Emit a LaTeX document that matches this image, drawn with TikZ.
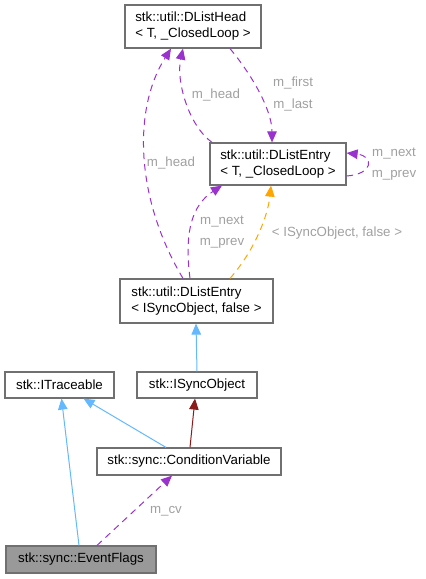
\documentclass[tikz,border=0pt]{standalone}
\usepackage{fontspec}
\setmainfont{Liberation Sans}
\usetikzlibrary{arrows.meta}
\definecolor{edgepurple}{HTML}{9A32CD}
\definecolor{edgeorange}{HTML}{FFA500}
\definecolor{edgeblue}{HTML}{63B8FF}
\definecolor{edgebrown}{HTML}{8B1A1A}
\definecolor{boxborder}{HTML}{707070}
\definecolor{lblgray}{HTML}{A0A0A0}
\definecolor{boxgray}{HTML}{999999}
\tikzset{
  box/.style={draw=boxborder, line width=1.2pt, fill=white, inner sep=0pt,
    font=\fontsize{13.3}{16}\selectfont},
  twoline/.style={box, align=left, minimum width=#1},
  oneline/.style={box, align=center, minimum width=#1},
  tip/.style={-{Triangle[length=11pt,width=9.5pt,fill=#1]}},
  uses/.style={tip=edgepurple, draw=edgepurple, line width=1pt, dash pattern=on 6.5pt off 5pt},
  templ/.style={tip=edgeorange, draw=edgeorange, line width=1pt, dash pattern=on 6.5pt off 5pt},
  inherit/.style={tip=edgeblue, draw=edgeblue, line width=1pt},
  privinh/.style={tip=edgebrown, draw=edgebrown, line width=1pt},
  lbl/.style={text=lblgray, font=\fontsize{13.3}{16}\selectfont, inner sep=0pt}
}
\begin{document}
\begin{tikzpicture}[x=1pt,y=-1pt]
\useasboundingbox (0,0) rectangle (426,579);
% nodes
\node[twoline=136pt, minimum height=43pt] (head) at (193,26.5) {stk::util::DListHead\\< T, \_ClosedLoop >};
\node[twoline=136pt, minimum height=42pt] (entryT) at (278,164) {stk::util::DListEntry\\< T, \_ClosedLoop >};
\node[twoline=153pt, minimum height=44pt] (entryS) at (196.5,301) {stk::util::DListEntry\\< ISyncObject, false >};
\node[oneline=109pt, minimum height=26pt] (trace) at (59.5,385) {stk::ITraceable};
\node[oneline=120pt, minimum height=26pt] (isync) at (197,385) {stk::ISyncObject};
\node[oneline=184pt, minimum height=27pt] (cv) at (189,461.5) {stk::sync::ConditionVariable};
\node[oneline=150pt, minimum height=27pt, fill=boxgray] (ef) at (81,559.5) {stk::sync::EventFlags};
% edges
\draw[uses] ([xshift=37pt]head.south) .. controls (252,75) and (272,110) .. ([xshift=-6pt]entryT.north);
\draw[uses] ([xshift=-66pt]entryT.north) .. controls (188,125) and (176,80) .. ([xshift=-10pt]head.south);
\draw[uses] ([yshift=-12pt]entryT.east) .. controls (374,174) and (374,156) .. ([yshift=11pt]entryT.east);
\draw[uses] ([xshift=-13.5pt]entryS.north) .. controls (136,200) and (132,110) .. ([xshift=-22pt]head.south);
\draw[uses] ([xshift=-6.5pt]entryS.north) .. controls (184,232) and (192,205) .. ([xshift=-56pt]entryT.south);
\draw[templ] ([xshift=33.5pt]entryS.north) .. controls (255,250) and (268,215) .. ([xshift=-7pt]entryT.south);
\draw[inherit] (isync.north) -- ([xshift=-0.5pt]entryS.south);
\draw[privinh] ([xshift=1pt]cv.north) -- ([xshift=-2pt]isync.south);
\draw[inherit] ([xshift=-23pt]cv.north) -- ([xshift=24pt]trace.south);
\draw[inherit] ([xshift=-2pt]ef.north) -- ([xshift=2pt]trace.south);
\draw[uses] ([xshift=16pt]ef.north) -- ([xshift=-17pt]cv.south);
% labels
\node[lbl] (l1) at (293,83) {m\_first};
\node[lbl] (l2) at (293,105) {m\_last};
\node[lbl] (l3) at (216,95) {m\_head};
\node[lbl] (l4) at (171,163) {m\_head};
\node[lbl] (l5) at (394,154) {m\_next};
\node[lbl] (l6) at (394,175) {m\_prev};
\node[lbl] (l7) at (222,222) {m\_next};
\node[lbl] (l8) at (222,243) {m\_prev};
\node[lbl] (l9) at (337,233) {< ISyncObject, false >};
\node[lbl] (l10) at (166,511) {m\_cv};
\end{tikzpicture}
\end{document}
